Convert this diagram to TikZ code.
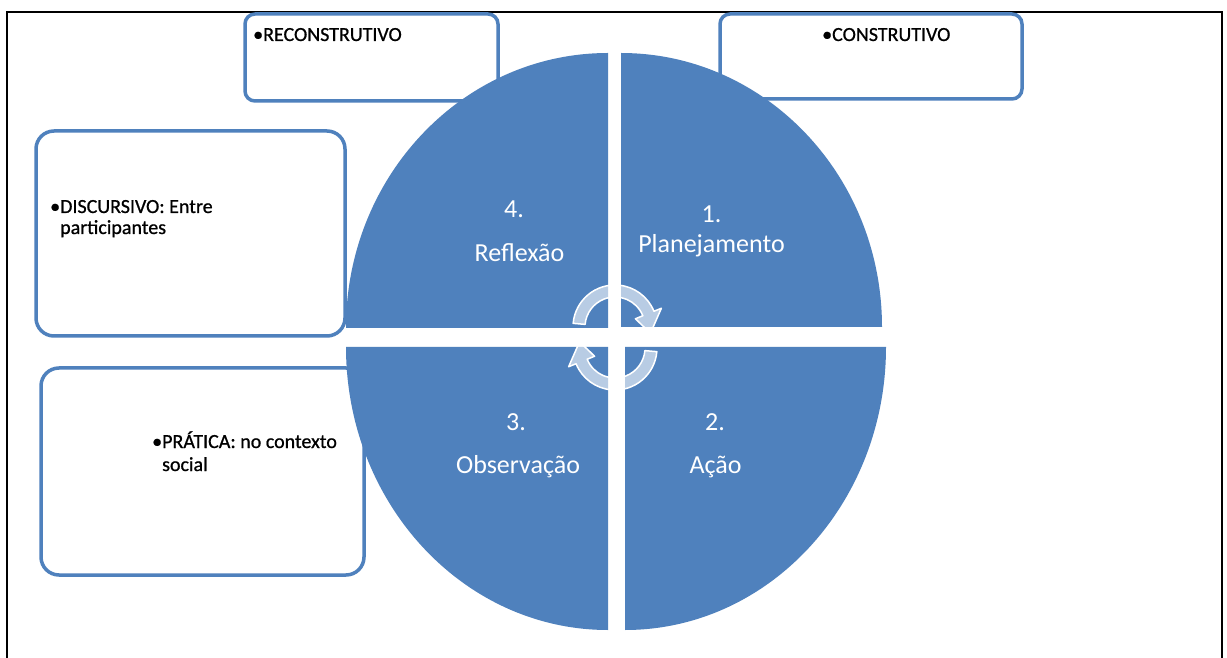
\documentclass[tikz,border=0pt]{standalone}
\usepackage{fontspec}
\setmainfont{Carlito}
\newfontfamily\boxfont[FakeBold=0.8]{Carlito}
\definecolor{accent}{HTML}{4F81BD}
\tikzset{
  boxbig/.style={draw=accent, line width=3.5pt, fill=white, rounded corners=18pt},
  boxsmall/.style={draw=accent, line width=3.5pt, fill=white, rounded corners=10pt},
  quad/.style={fill=accent},
  lbl/.style={text=white, font=\fontsize{26}{30}\selectfont, anchor=base, inner sep=0pt},
  btxt/.style={font=\boxfont\fontsize{20}{22}\selectfont, anchor=base west, inner sep=0pt},
  ttxt/.style={font=\boxfont\fontsize{20}{22}\selectfont, anchor=base west, inner sep=0pt},
  cyc/.style={fill=white, fill opacity=0.6, draw=white, draw opacity=1, line width=1.5pt, line join=round},
}
\begin{document}
\begin{tikzpicture}[x=1pt,y=1pt]
\useasboundingbox (0,0) rectangle (1227,657);
\fill[white] (0,0) rectangle (1227,657);
% frame
\draw[line width=2pt] (7,-5) -- (7,645) -- (1222,645) -- (1222,-5);
% boxes
\draw[boxsmall] (245,556) rectangle (498,643);
\draw[boxsmall] (720,558) rectangle (1022,643);
\draw[boxbig] (36,321) rectangle (345,526);
\draw[boxbig] (41,82) rectangle (364,289);
% box texts
\node[ttxt] (rec) at (253,616) {•RECONSTRUTIVO};
\node[ttxt] (con) at (822,616) {•CONSTRUTIVO};
\node[btxt] (dis1) at (50,444) {•DISCURSIVO: Entre};
\node[btxt] (dis2) at (50,423) {\phantom{•}participantes};
\node[btxt] (pra1) at (152,209) {•PRÁTICA: no contexto};
\node[btxt] (pra2) at (152,186) {\phantom{•}social};
% quadrants
\fill[quad] (608,329) -- ++(-262,0) arc (180:90:262 and 275) -- cycle;
\fill[quad] (621,330) -- ++(0,274) arc (90:0:261 and 274) -- cycle;
\fill[quad] (608,310) -- ++(-262,0) arc (180:270:262 and 283) -- cycle;
\fill[quad] (625,310) -- ++(261,0) arc (0:-90:261 and 283) -- cycle;
% labels
\node[lbl] (n4) at (514,439) {4.};
\node[lbl] (w4) at (519.5,395) {Reflexão};
\node[lbl] (n1) at (711.5,434) {1.};
\node[lbl] (w1) at (711.5,404) {Planejamento};
\node[lbl] (n3) at (516,227) {3.};
\node[lbl] (w3) at (518,184) {Observação};
\node[lbl] (n2) at (715,227) {2.};
\node[lbl] (w2) at (715.5,184) {Ação};
% cycle arrows
\begin{scope}[shift={(615,330)}]
  \draw[cyc] (175:42) arc (175:22:42) -- (22:50) -- (-10:36) -- (22:22) -- (22:30) arc (22:175:30) -- cycle;
\end{scope}
\begin{scope}[shift={(615,309)}, rotate=180]
  \draw[cyc] (175:42) arc (175:22:42) -- (22:50) -- (-10:36) -- (22:22) -- (22:30) arc (22:175:30) -- cycle;
\end{scope}
\end{tikzpicture}
\end{document}
